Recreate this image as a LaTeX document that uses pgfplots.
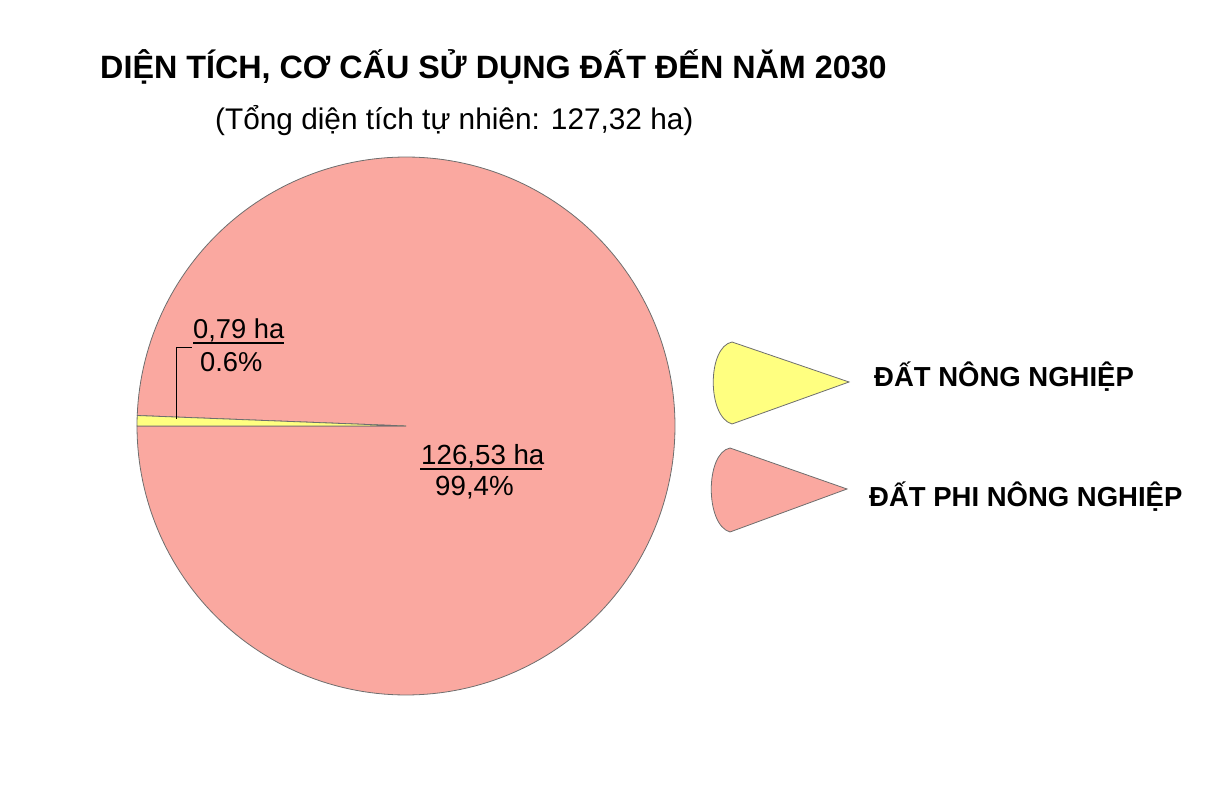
\documentclass[border=0pt]{standalone}
\usepackage{fontspec}
\setmainfont{Liberation Sans}
\usepackage{pgfplots}
\usepackage{pgfplotstable}
\pgfplotsset{compat=1.18}
\definecolor{piepink}{RGB}{250,168,160}
\definecolor{pieyellow}{RGB}{255,255,128}
\definecolor{edgegray}{RGB}{110,110,110}
\pgfplotstableread{
label value
nong 0.79
phi 126.53
}\piedata
\begin{document}%
\begin{tikzpicture}
\pgfplotstablegetelem{0}{value}\of\piedata \let\vA\pgfplotsretval
\pgfplotstablegetelem{1}{value}\of\piedata \let\vB\pgfplotsretval
\pgfmathsetmacro\angA{360*\vA/(\vA+\vB)}
\pgfmathsetmacro\yStart{180-\angA}
\pgfmathsetmacro\pEnd{540-\angA}
\begin{axis}[
  at={(0,0)}, anchor=south west,
  x=1pt, y=1pt, xmin=0, xmax=1209, ymin=0, ymax=795,
  scale only axis, hide axis, clip=false,
]
% slices
\addplot[fill=piepink, draw=edgegray, line width=0.8pt, domain=180:\pEnd, samples=240, variable=\t]
  ({406+269*cos(\t)},{369+269*sin(\t)}) -- (axis cs:406,369) -- cycle;
\addplot[fill=pieyellow, draw=edgegray, line width=0.8pt, domain=\yStart:180, samples=10, variable=\t]
  ({406+269*cos(\t)},{369+269*sin(\t)}) -- (axis cs:406,369) -- cycle;
% title
\node[anchor=base west, inner sep=0pt, font=\fontsize{32.3}{38}\selectfont\bfseries] at (axis cs:100,716) {DIỆN TÍCH, CƠ CẤU SỬ DỤNG ĐẤT ĐẾN NĂM 2030};
\node[anchor=base west, inner sep=0pt, font=\fontsize{29.8}{35}\selectfont] at (axis cs:215,665) {(Tổng diện tích tự nhiên: 127,32 ha)};
% data labels
\draw[black, line width=0.9pt] (axis cs:176,376) -- (axis cs:176,448) -- (axis cs:192,448);
\node[anchor=base west, inner sep=0pt, font=\fontsize{27.3}{33}\selectfont] at (axis cs:193,456) {0,79 ha};
\draw[black, line width=1.2pt] (axis cs:193,452) -- (axis cs:284,452);
\node[anchor=base west, inner sep=0pt, font=\fontsize{27.3}{33}\selectfont] at (axis cs:200,423) {0.6\%};
\node[anchor=base west, inner sep=0pt, font=\fontsize{27.7}{33}\selectfont] at (axis cs:421,330) {126,53 ha};
\draw[black, line width=1.2pt] (axis cs:420,326) -- (axis cs:542,326);
\node[anchor=base west, inner sep=0pt, font=\fontsize{27.7}{33}\selectfont] at (axis cs:435,299) {99,4\%};
% legend
\draw[fill=pieyellow, draw=edgegray, line width=0.8pt] (axis cs:849,413) -- (axis cs:732,453)
  .. controls (axis cs:707,448) and (axis cs:707,378) .. (axis cs:732,371) -- cycle;
\node[anchor=base west, inner sep=0pt, font=\fontsize{27.5}{33}\selectfont\bfseries] at (axis cs:874,408) {ĐẤT NÔNG NGHIỆP};
\draw[fill=piepink, draw=edgegray, line width=0.8pt] (axis cs:847,306) -- (axis cs:730,347)
  .. controls (axis cs:705,342) and (axis cs:705,270) .. (axis cs:730,263) -- cycle;
\node[anchor=base west, inner sep=0pt, font=\fontsize{27.5}{33}\selectfont\bfseries] at (axis cs:869,288) {ĐẤT PHI NÔNG NGHIỆP};
\end{axis}
\pgfresetboundingbox
\useasboundingbox (0,0) rectangle (1209pt,795pt);
\end{tikzpicture}%
\end{document}
